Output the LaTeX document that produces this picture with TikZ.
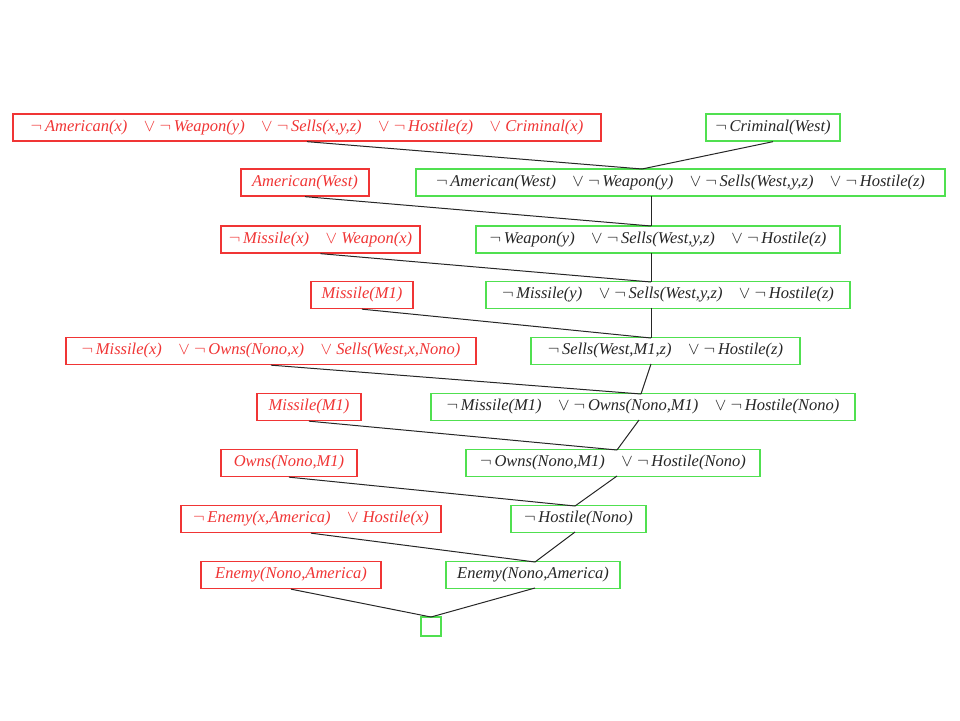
\documentclass[tikz,border=0pt]{standalone}
\usepackage{fontspec}
\setmainfont{Liberation Serif}
\usepackage[HTML]{xcolor}
\usepackage{tikz}

\definecolor{boxred}{HTML}{F03535}
\definecolor{boxgreen}{HTML}{50E050}
\newcommand{\nsym}{$\neg$\,}
\newcommand{\vsep}{\quad$\vee$\ }

\tikzset{
  clause/.style={draw, rectangle, line width=1.3pt, minimum height=27pt, inner sep=0pt,
    font=\itshape\fontsize{16.5}{19}\selectfont},
  given/.style={clause, draw=boxred, text=boxred},
  derived/.style={clause, draw=boxgreen, text=black!85},
  link/.style={line width=1pt, black!85}
}

\begin{document}
\begin{tikzpicture}[x=1pt, y=-1pt]
\useasboundingbox (0,0) rectangle (960,720);

% clauses given at the start (left) and derived ones (right)
\node[given, minimum width=588pt] (r1) at (307,127.5) {\nsym American(x)\vsep\nsym Weapon(y)\vsep\nsym Sells(x,y,z)\vsep\nsym Hostile(z)\vsep Criminal(x)};
\node[derived, minimum width=134pt] (g1) at (773,127.5) {\nsym Criminal(West)};

\node[given, minimum width=128pt] (r2) at (305,182.5) {American(West)};
\node[derived, minimum width=529pt] (g2) at (680.5,182.5) {\nsym American(West)\vsep\nsym Weapon(y)\vsep\nsym Sells(West,y,z)\vsep\nsym Hostile(z)};

\node[given, minimum width=199pt] (r3) at (320.5,239.5) {\nsym Missile(x)\vsep Weapon(x)};
\node[derived, minimum width=364pt] (g3) at (658,239.5) {\nsym Weapon(y)\vsep\nsym Sells(West,y,z)\vsep\nsym Hostile(z)};

\node[given, minimum width=102pt] (r4) at (362,295) {Missile(M1)};
\node[derived, minimum width=364pt] (g4) at (668,295) {\nsym Missile(y)\vsep\nsym Sells(West,y,z)\vsep\nsym Hostile(z)};

\node[given, minimum width=410pt] (r5) at (271,351) {\nsym Missile(x)\vsep\nsym Owns(Nono,x)\vsep Sells(West,x,Nono)};
\node[derived, minimum width=269pt] (g5) at (665.5,351) {\nsym Sells(West,M1,z)\vsep\nsym Hostile(z)};

\node[given, minimum width=104pt] (r6) at (309,407) {Missile(M1)};
\node[derived, minimum width=424pt] (g6) at (643,407) {\nsym Missile(M1)\vsep\nsym Owns(Nono,M1)\vsep\nsym Hostile(Nono)};

\node[given, minimum width=136pt] (r7) at (289,463) {Owns(Nono,M1)};
\node[derived, minimum width=294pt] (g7) at (613,463) {\nsym Owns(Nono,M1)\vsep\nsym Hostile(Nono)};

\node[given, minimum width=260pt] (r8) at (311,519) {\nsym Enemy(x,America)\vsep Hostile(x)};
\node[derived, minimum width=135pt] (g8) at (578.5,519) {\nsym Hostile(Nono)};

\node[given, minimum width=180pt] (r9) at (291,575) {Enemy(Nono,America)};
\node[derived, minimum width=174pt] (g9) at (533,575) {Enemy(Nono,America)};

\node[derived, minimum width=20pt, minimum height=19pt] (g10) at (431,626.5) {};

% where the links meet the boxes
\coordinate (b1) at (g1.south);
\coordinate (t2) at (642,169);  \coordinate (b2) at (651,196);
\coordinate (t3) at (651,226);  \coordinate (b3) at (651,253);
\coordinate (t4) at (651,282);  \coordinate (b4) at (651,308);
\coordinate (t5) at (651,338);  \coordinate (b5) at (651,364);
\coordinate (t6) at (641,394);  \coordinate (b6) at (639,420);
\coordinate (t7) at (617,450);  \coordinate (b7) at (617,476);
\coordinate (t8) at (575,506);  \coordinate (b8) at (575,532);
\coordinate (t9) at (535,562);  \coordinate (b9) at (535,588);
\coordinate (t10) at (431,617);

% resolution steps
\foreach \i/\j in {1/2,2/3,3/4,4/5,5/6,6/7,7/8,8/9,9/10}{
  \draw[link] (r\i.south) -- (t\j);
  \draw[link] (b\i) -- (t\j);
}
\end{tikzpicture}
\end{document}
